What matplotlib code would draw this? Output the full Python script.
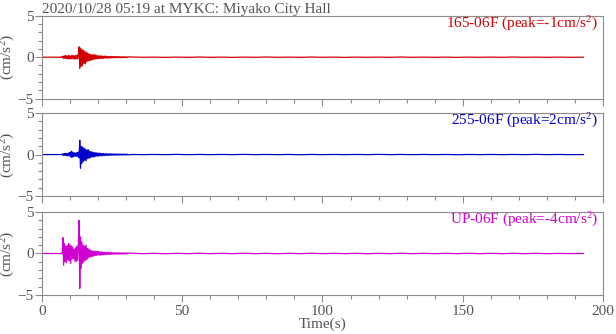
import numpy as np
import matplotlib
matplotlib.use("Agg")
import matplotlib.pyplot as plt
from matplotlib.ticker import MultipleLocator

plt.rcParams["font.family"] = ["Liberation Serif", "DejaVu Serif"]
plt.rcParams["mathtext.fontset"] = "custom"
plt.rcParams["mathtext.rm"] = "Liberation Serif"
plt.rcParams["mathtext.it"] = "Liberation Serif"

title = "2020/10/28 05:19 at MYKC: Miyako City Hall"
channels = ["165-06F", "255-06F", "UP-06F"]
peaks = [-1, 2, -4]
colors = ["#d00000", "#0000c8", "#d000d0"]

# samples every 0.25 s from 7 s to 30.75 s
t_start, dt = 7.0, 0.25
red = [0.02, -0.03, 0.12, -0.15, 0.18, -0.14, 0.2, -0.17, 0.15, -0.2, 0.22, -0.18,
       0.16, -0.21, 0.19, -0.15, 0.22, -0.2, 0.17, -0.23, 0.2, -0.18, 0.25, -0.22,
       0.3, 1.25, -1.37, 1.1, -1.15, 0.95, -1.0, 0.85, -0.75, 0.7, -0.8, 0.6,
       -0.55, 0.5, -0.45, 0.42, -0.4, 0.35, -0.38, 0.3, -0.3, 0.28, -0.25, 0.3,
       -0.22, 0.25, -0.2, 0.18, -0.2, 0.17, -0.15, 0.18, -0.16, 0.14, -0.15, 0.12,
       -0.13, 0.12, -0.1, 0.13, -0.11, 0.1, -0.12, 0.09, -0.1, 0.08, -0.09, 0.1,
       -0.08, 0.09, -0.07, 0.08, -0.07, 0.08, -0.06, 0.07, -0.06, 0.07, -0.05, 0.06,
       -0.06, 0.05, -0.06, 0.05, -0.05, 0.06, -0.04, 0.05, -0.05, 0.04, -0.05, 0.04]
blue = [0.02, -0.03, 0.1, -0.12, 0.12, -0.1, 0.15, -0.13, 0.14, -0.16, 0.18, -0.15,
        0.25, -0.3, 0.4, -0.35, 0.3, -0.25, 0.22, -0.2, 0.18, -0.22, 0.25, -0.2,
        0.3, -0.4, 1.73, -1.66, 1.0, -1.1, 0.9, -0.85, 0.8, -0.7, 0.65, -0.75,
        0.55, -0.5, 0.6, -0.45, 0.4, -0.38, 0.35, -0.3, 0.3, -0.28, 0.25, -0.27,
        0.22, -0.2, 0.2, -0.18, 0.18, -0.17, 0.16, -0.15, 0.15, -0.14, 0.13, -0.14,
        0.12, -0.12, 0.11, -0.1, 0.1, -0.11, 0.09, -0.1, 0.09, -0.08, 0.1, -0.08,
        0.08, -0.07, 0.08, -0.07, 0.07, -0.07, 0.06, -0.06, 0.06, -0.06, 0.07, -0.05,
        0.05, -0.06, 0.05, -0.05, 0.05, -0.04, 0.05, -0.05, 0.04, -0.05, 0.04, -0.04]
magenta = [0.02, -0.05, 1.9, -1.4, 1.2, -1.0, 0.9, -1.1, 1.0, -0.8, 1.2, -0.9,
           1.1, -1.2, 0.9, -0.7, 0.8, -0.6, 0.5, -0.9, 0.7, -1.0, 0.9, -0.8,
           1.2, 4.0, -4.2, 2.0, -1.8, 1.4, -1.2, 1.0, -1.0, 0.9, -0.8, 1.0,
           -0.7, 0.6, -0.5, 0.55, -0.45, 0.4, -0.4, 0.35, -0.35, 0.3, -0.3, 0.28,
           -0.25, 0.28, -0.22, 0.25, -0.2, 0.22, -0.18, 0.2, -0.2, 0.18, -0.17, 0.16,
           -0.15, 0.15, -0.14, 0.13, -0.13, 0.12, -0.12, 0.14, -0.12, 0.11, -0.1, 0.12,
           -0.1, 0.1, -0.09, 0.1, -0.09, 0.09, -0.08, 0.1, -0.08, 0.08, -0.08, 0.07,
           -0.07, 0.08, -0.06, 0.07, -0.07, 0.06, -0.06, 0.07, -0.06, 0.06, -0.05, 0.06]

# quiet tail, one sample every 4 s from 32 s to 192 s, then end of record
tail_dt = 4.0
red_tail = [0.02, -0.01, 0.01, -0.02, 0.01, -0.01, 0.02, -0.01, 0.01, -0.02, 0.01,
            -0.01, 0.02, -0.01, 0.01, -0.01, 0.02, -0.01, 0.01, -0.02, 0.01, -0.01,
            0.01, -0.01, 0.02, -0.01, 0.01, -0.01, 0.01, -0.02, 0.01, -0.01, 0.01,
            -0.01, 0.02, -0.01, 0.01, -0.01, 0.01, -0.01, 0.0]
blue_tail = [0.01, -0.01, 0.01, -0.01, 0.02, -0.01, 0.01, -0.01, 0.01, -0.01, 0.02,
             -0.01, 0.01, -0.01, 0.01, -0.02, 0.01, -0.01, 0.01, -0.01, 0.01, -0.01,
             0.02, -0.01, 0.01, -0.01, 0.01, -0.01, 0.01, -0.02, 0.01, -0.01, 0.01,
             -0.01, 0.01, -0.01, 0.02, -0.01, 0.01, -0.01, 0.0]
magenta_tail = [0.03, -0.02, 0.02, -0.03, 0.02, -0.02, 0.03, -0.02, 0.02, -0.02, 0.03,
                -0.02, 0.02, -0.03, 0.02, -0.02, 0.03, -0.02, 0.02, -0.02, 0.02, -0.03,
                0.02, -0.02, 0.03, -0.02, 0.02, -0.02, 0.02, -0.02, 0.03, -0.02, 0.02,
                -0.02, 0.02, -0.02, 0.02, -0.02, 0.01, -0.01, 0.0]
record_end = 193.0

traces = [(red, red_tail), (blue, blue_tail), (magenta, magenta_tail)]

grey = "#555555"
spine_grey = "#8c8c8c"

fig = plt.figure(figsize=(6.16, 3.34), dpi=100)
left, width = 0.068, 0.911
bottoms = [0.7045, 0.413, 0.1168]
height = 0.2485

for i, ((main, tail), ch, pk, col) in enumerate(zip(traces, channels, peaks, colors)):
    ax = fig.add_axes([left, bottoms[i], width, height])
    t_main = t_start + dt * np.arange(len(main))
    t_tail = 32.0 + tail_dt * np.arange(len(tail))
    t = np.concatenate([[0.0, t_start - 0.01], t_main, t_tail, [record_end]])
    y = np.concatenate([[0.0, 0.0], main, tail, [0.0]])
    ax.plot(t, y, color=col, lw=0.9)

    ax.set_xlim(0, 200)
    ax.set_ylim(-5, 5)
    ax.set_yticks([-5, 0, 5])
    ax.yaxis.set_minor_locator(MultipleLocator(1))
    ax.xaxis.set_major_locator(MultipleLocator(50))
    ax.xaxis.set_minor_locator(MultipleLocator(10))
    ax.tick_params(which="both", direction="out", colors=spine_grey,
                   labelcolor=grey, labelsize=11, width=0.8)
    ax.tick_params(which="major", length=5, pad=2)
    ax.tick_params(which="minor", length=3)
    ax.tick_params(axis="y", which="major", pad=1)
    for s in ax.spines.values():
        s.set_color(spine_grey)
        s.set_linewidth(0.8)
    if i < 2:
        ax.tick_params(axis="x", labelbottom=False)
    else:
        ax.set_xlabel("Time(s)", fontsize=11, color=grey, labelpad=0)
    ax.set_ylabel(r"(cm/s$^2$)", fontsize=11, color=grey, labelpad=0)
    ax.text(0.991, 0.9, ch + r" (peak=" + str(pk) + r"cm/s$^2$)", transform=ax.transAxes,
            ha="right", va="center", color=col, fontsize=11)
    if i == 0:
        ax.set_title(title, loc="left", fontsize=11, color=grey, pad=2)

fig.savefig("out.png", dpi=100)
